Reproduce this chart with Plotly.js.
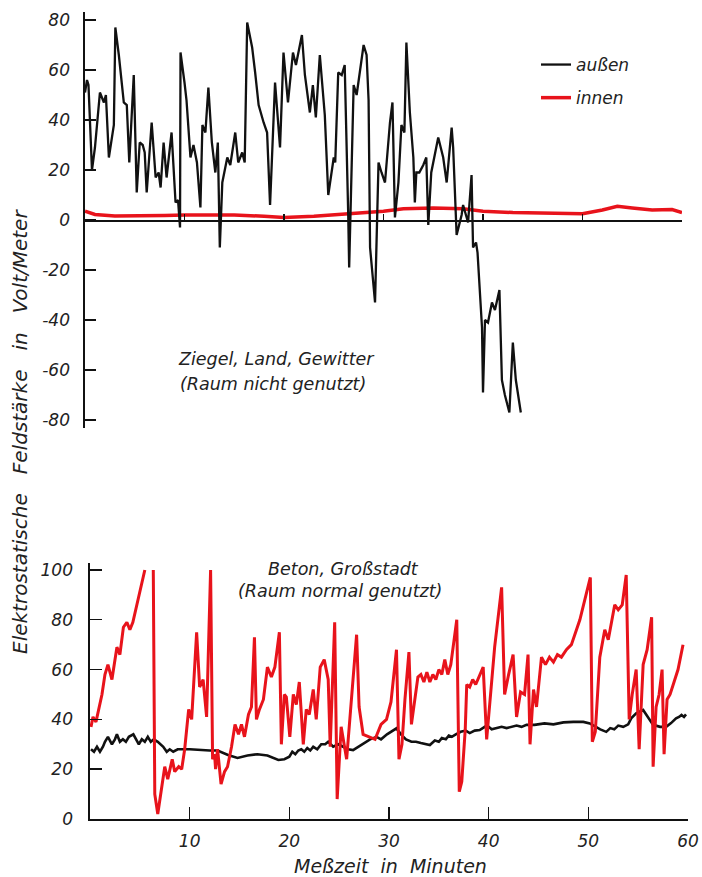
<!DOCTYPE html>
<html>
<head>
<meta charset="utf-8">
<script src="https://cdn.plot.ly/plotly-3.0.1.min.js"></script>
<style>
  html, body { margin: 0; padding: 0; background: #fff; }
  #chart { width: 702px; height: 877px; }
</style>
</head>
<body>
<div id="chart"></div>
<script>
// ---------- DATA ----------
// Top panel: Ziegel, Land, Gewitter (Raum nicht genutzt)
const topOutsideT = [0,0.2,0.35,0.7,1.0,1.5,1.9,2.1,2.4,2.9,3.05,3.4,3.9,4.2,4.45,4.9,5.2,5.5,5.8,6.0,6.2,6.7,7.1,7.4,7.6,7.9,8.2,8.7,9.1,9.35,9.55,9.6,10.0,10.2,10.6,10.9,11.25,11.6,11.8,12.1,12.4,12.75,13.1,13.35,13.55,13.8,14.3,14.6,15.1,15.4,15.8,16.05,16.3,16.8,17.1,17.45,17.95,18.3,18.6,19.1,19.6,19.95,20.4,20.9,21.2,21.8,22.1,22.6,22.9,23.2,23.6,24.1,24.45,25.0,25.15,25.45,25.8,26.1,26.45,26.55,27.0,27.3,28.0,28.3,28.5,28.65,29.15,29.5,29.8,30.15,30.65,30.9,31.15,31.5,31.8,32.1,32.3,32.65,33.0,33.15,33.3,33.6,34.0,34.3,34.5,34.8,35.5,36.0,36.35,36.85,37.0,37.35,37.85,38.0,38.5,38.85,39.0,39.3,39.45,39.9,40.0,40.2,40.5,40.9,41.2,41.65,41.9,42.2,42.65,43.0,43.3,43.8];
const topOutsideV = [51,56,54,20,29,51,47,50,25,38,77,66,47,46,23,58,11,31,30,27,11,39,17,19,13,31,17,35,7,8,-3,67,55,48,25,30,23,5,38,35,53,31,19,31,-11,15,25,22,35,23,27,23,79,69,59,46,39,35,6,55,29,67,47,67,62,74,58,43,54,41,66,42,10,25,23,59,58,62,3,-19,54,50,70,66,48,-11,-33,23,19,15,39,47,1,15,38,35,71,43,25,7,19,19,22,25,-2,19,33,25,15,37,29,-6,2,6,-1,18,-11,-9,-13,-43,-69,-40,-41,-33,-36,-28,-64,-70,-77,-49,-64,-77];

const topInsideT = [0,1,3,5,8,10,13,15,18,20,23,25,27,30,32,35,38,40,43,46,48,50,52,53.5,55,57,59,60];
const topInsideV = [3.5,2.2,1.6,1.6,1.8,2,2.2,2,1.5,1,1.5,2,2.5,3.5,4.5,4.8,4.5,3.5,3,2.8,2.5,2.5,4,5.5,4.8,4,4.2,3];

// Bottom panel: Beton, Großstadt (Raum normal genutzt)
const botInsideT = [0.1,0.3,0.6,1.2,1.5,1.8,2.2,2.7,3.0,3.35,3.7,4.0,4.3,4.85,5.5,5.9,6.35,6.5,6.8,7.2,7.5,7.8,8.25,8.5,8.9,9.2,9.5,9.9,10.2,10.7,11.0,11.35,11.7,12.1,12.3,12.5,12.6,12.8,13.15,13.5,13.8,14.2,14.55,14.9,15.2,15.5,15.9,16.2,16.5,16.7,17.0,17.4,17.8,18.2,18.55,19.0,19.2,19.5,19.7,20.05,20.4,20.7,21.0,21.4,21.7,22.0,22.4,22.7,23.1,23.5,23.9,24.1,24.55,24.8,25.2,25.75,26.2,26.75,27.0,27.4,28.0,28.6,29.2,29.75,30.2,30.75,31.0,31.3,31.6,32.0,32.25,32.5,32.9,33.2,33.5,33.8,34.1,34.4,34.7,35.0,35.3,35.6,35.9,36.2,36.8,37.05,37.3,37.65,37.8,38.1,38.4,38.7,39.0,39.45,39.8,40.3,40.6,41.3,41.6,42.0,42.45,42.8,43.2,43.6,43.95,44.15,44.5,44.8,45.3,45.7,46.1,46.5,46.9,47.3,47.8,48.3,49.15,50.2,50.4,50.7,51.15,51.65,52.0,52.65,53.0,53.4,53.8,54.1,54.4,54.8,55.1,55.5,55.9,56.35,56.5,56.8,57.1,57.4,57.6,57.9,58.2,58.6,59.0,59.5];
const botInsideV = [37,41,39,50,58,62,56,69,66,77,79,76,79,89,100,null,100,10,2,13,21,16,24,19,21,20,28,44,40,75,53,56,41,100,24,26,20,28,14,19,21,29,38,34,38,33,42,45,73,40,44,48,61,57,61,75,30,50,49,33,50,46,55,30,44,42,52,40,61,64,56,29,79,8,37,24,45,74,45,34,33,32,38,40,47,68,24,30,48,67,38,45,57,58,55,59,55,58,56,60,58,64,58,62,80,11,15,36,54,53,56,54,57,61,32,56,69,93,50,58,66,41,51,50,66,30,52,45,65,62,65,63,66,65,68,70,80,97,31,35,65,76,72,86,84,86,98,40,50,60,28,62,68,81,21,45,50,60,26,48,50,55,60,70];

const botOutsideT = [0.1,0.4,0.7,1.0,1.3,1.5,1.8,2.2,2.5,2.7,3.0,3.3,3.6,3.9,4.35,4.6,4.9,5.2,5.5,5.8,6.1,6.4,6.8,7.35,7.7,8.0,8.35,8.8,10,12,12.8,13.85,14.8,15.8,16.8,17.8,18.9,19.5,20.0,20.3,20.6,20.9,21.2,21.5,21.8,22.1,22.4,22.8,23.2,23.6,23.9,24.4,24.9,25.4,25.9,26.4,26.9,27.6,28.1,28.75,29.2,29.8,30.2,30.75,31.2,31.7,32.25,32.7,33.2,33.7,34.1,34.6,35.0,35.3,35.7,36.0,36.3,36.7,37.2,37.7,38.1,38.6,39.1,39.6,39.8,40.3,40.8,41.3,41.8,42.3,42.8,43.3,43.8,44.6,45.6,46.5,47.5,48.5,49.5,50.15,50.7,51.2,51.8,52.2,52.6,53.0,53.5,54.0,54.3,54.8,55.5,56.0,56.5,57.2,57.8,58.3,58.8,59.1,59.35,59.6,59.8];
const botOutsideV = [28,27,29,27,29,31,33,30,32,34,31,32,31,33,34,32,30,32,31,33,31,32,31,29,27,28,27,28,28,27.5,27.5,25.7,24.5,25.5,26,25.5,23.7,24,25,27,26,27.5,28,27,28.5,27.5,29,28,30,30,31,29,30,29,28,27.7,29,31,32,33,32,34,35,36.4,34,32,31,31,30.5,30,29.7,31.5,31,32.5,32,33.5,33,34,35,35.5,34.5,35.5,35.7,37,37.7,36,36.5,37,36.5,37,37.5,37,37.8,37.8,38.4,38,38.8,39,39,38.4,37,36,35,36.5,36,37.5,37,38,40.4,42.4,43.8,41,37.8,37,37,38.5,40.4,41,41.8,41,42];

// Tick values / labels
const topYTicks = [-80,-60,-40,-20,0,20,40,60,80];
const topYLabels = ["-80","-60","-40","-20","0","20","40","60","80"];
const xTicks = [10,20,30,40,50,60];
const xLabels = ["10","20","30","40","50","60"];
const botYTicks = [0,20,40,60,80,100];
const botYLabels = ["0","20","40","60","80","100"];
const seriesNames = ["außen","innen"];

// ---------- LAYOUT ----------
const W = 702, H = 877;
const px = v => v / W;
const py = v => 1 - v / H;
const RED = '#e8131b', BLACK = '#111111';
const fontBase = {family: 'DejaVu Sans, sans-serif', color: '#222', style: 'italic'};
const f = size => Object.assign({}, fontBase, {size});
const sp = n => '\u00a0'.repeat(n);

const topYDomain = [py(428), py(12)];
const botYDomain = [py(819), py(563)];

const traces = [
  {x: topInsideT, y: topInsideV, xaxis: 'x', yaxis: 'y', mode: 'lines', name: seriesNames[1],
   line: {color: RED, width: 3.5}, legendrank: 2, legendgroup: 'b'},
  {x: topOutsideT, y: topOutsideV, xaxis: 'x', yaxis: 'y', mode: 'lines', name: seriesNames[0],
   line: {color: BLACK, width: 2.3}, legendrank: 1, legendgroup: 'a'},
  {x: botOutsideT, y: botOutsideV, xaxis: 'x2', yaxis: 'y2', mode: 'lines', name: seriesNames[0],
   line: {color: BLACK, width: 2.6}, showlegend: false},
  {x: botInsideT, y: botInsideV, xaxis: 'x2', yaxis: 'y2', mode: 'lines', name: seriesNames[1],
   line: {color: RED, width: 3}, showlegend: false, connectgaps: false}
];

const axisCommon = {showline: true, linecolor: BLACK, linewidth: 1.6, showgrid: false, zeroline: false,
  ticks: 'inside', tickcolor: BLACK, tickwidth: 1.4, tickfont: f(17), fixedrange: true};

const layout = {
  width: W, height: H,
  margin: {l: 0, r: 0, t: 0, b: 0},
  paper_bgcolor: '#fff', plot_bgcolor: 'rgba(0,0,0,0)',
  showlegend: true,
  legend: {x: px(536), xanchor: 'left', y: py(47), yanchor: 'top', font: f(17),
           bgcolor: 'rgba(0,0,0,0)', traceorder: 'grouped', tracegroupgap: 8},
  xaxis: Object.assign({}, axisCommon, {domain: [px(85), px(682)], range: [0, 60], anchor: 'free',
    position: (topYDomain[0] + topYDomain[1]) / 2, tickvals: xTicks, showticklabels: false, ticklen: 6}),
  yaxis: Object.assign({}, axisCommon, {domain: topYDomain, range: [-83.2, 83.2], anchor: 'x',
    tickvals: topYTicks, ticktext: topYLabels, ticklen: 11, ticklabelstandoff: 10}),
  xaxis2: Object.assign({}, axisCommon, {domain: [px(90), px(688)], range: [0, 60], anchor: 'y2',
    tickvals: xTicks, ticktext: xLabels, ticklen: 12, ticklabelstandoff: 6}),
  yaxis2: Object.assign({}, axisCommon, {domain: botYDomain, range: [0, 102.8], anchor: 'x2',
    tickvals: botYTicks, ticktext: botYLabels, ticklen: 12, ticklabelstandoff: 12}),
  annotations: [
    {text: 'Elektrostatische' + sp(3) + 'Feldstärke' + sp(3) + 'in' + sp(3) + 'Volt/Meter', xref: 'paper', yref: 'paper',
     x: px(20), y: py(432), textangle: -90, showarrow: false, font: f(20), xanchor: 'center', yanchor: 'middle'},
    {text: 'Meßzeit' + sp(2) + 'in' + sp(2) + 'Minuten', xref: 'paper', yref: 'paper', x: px(390), y: py(866),
     showarrow: false, font: f(19), xanchor: 'center', yanchor: 'middle'},
    {text: 'Ziegel, Land, Gewitter', xref: 'paper', yref: 'paper', x: px(276), y: py(359),
     showarrow: false, font: f(17.5), xanchor: 'center', yanchor: 'middle'},
    {text: '(Raum nicht genutzt)', xref: 'paper', yref: 'paper', x: px(273), y: py(384),
     showarrow: false, font: f(17.5), xanchor: 'center', yanchor: 'middle'},
    {text: 'Beton, Großstadt', xref: 'paper', yref: 'paper', x: px(343), y: py(569),
     showarrow: false, font: f(17.5), xanchor: 'center', yanchor: 'middle'},
    {text: '(Raum normal genutzt)', xref: 'paper', yref: 'paper', x: px(340), y: py(591),
     showarrow: false, font: f(17.5), xanchor: 'center', yanchor: 'middle'}
  ]
};

Plotly.newPlot('chart', traces, layout, {displayModeBar: false, staticPlot: true});
</script>
</body>
</html>
